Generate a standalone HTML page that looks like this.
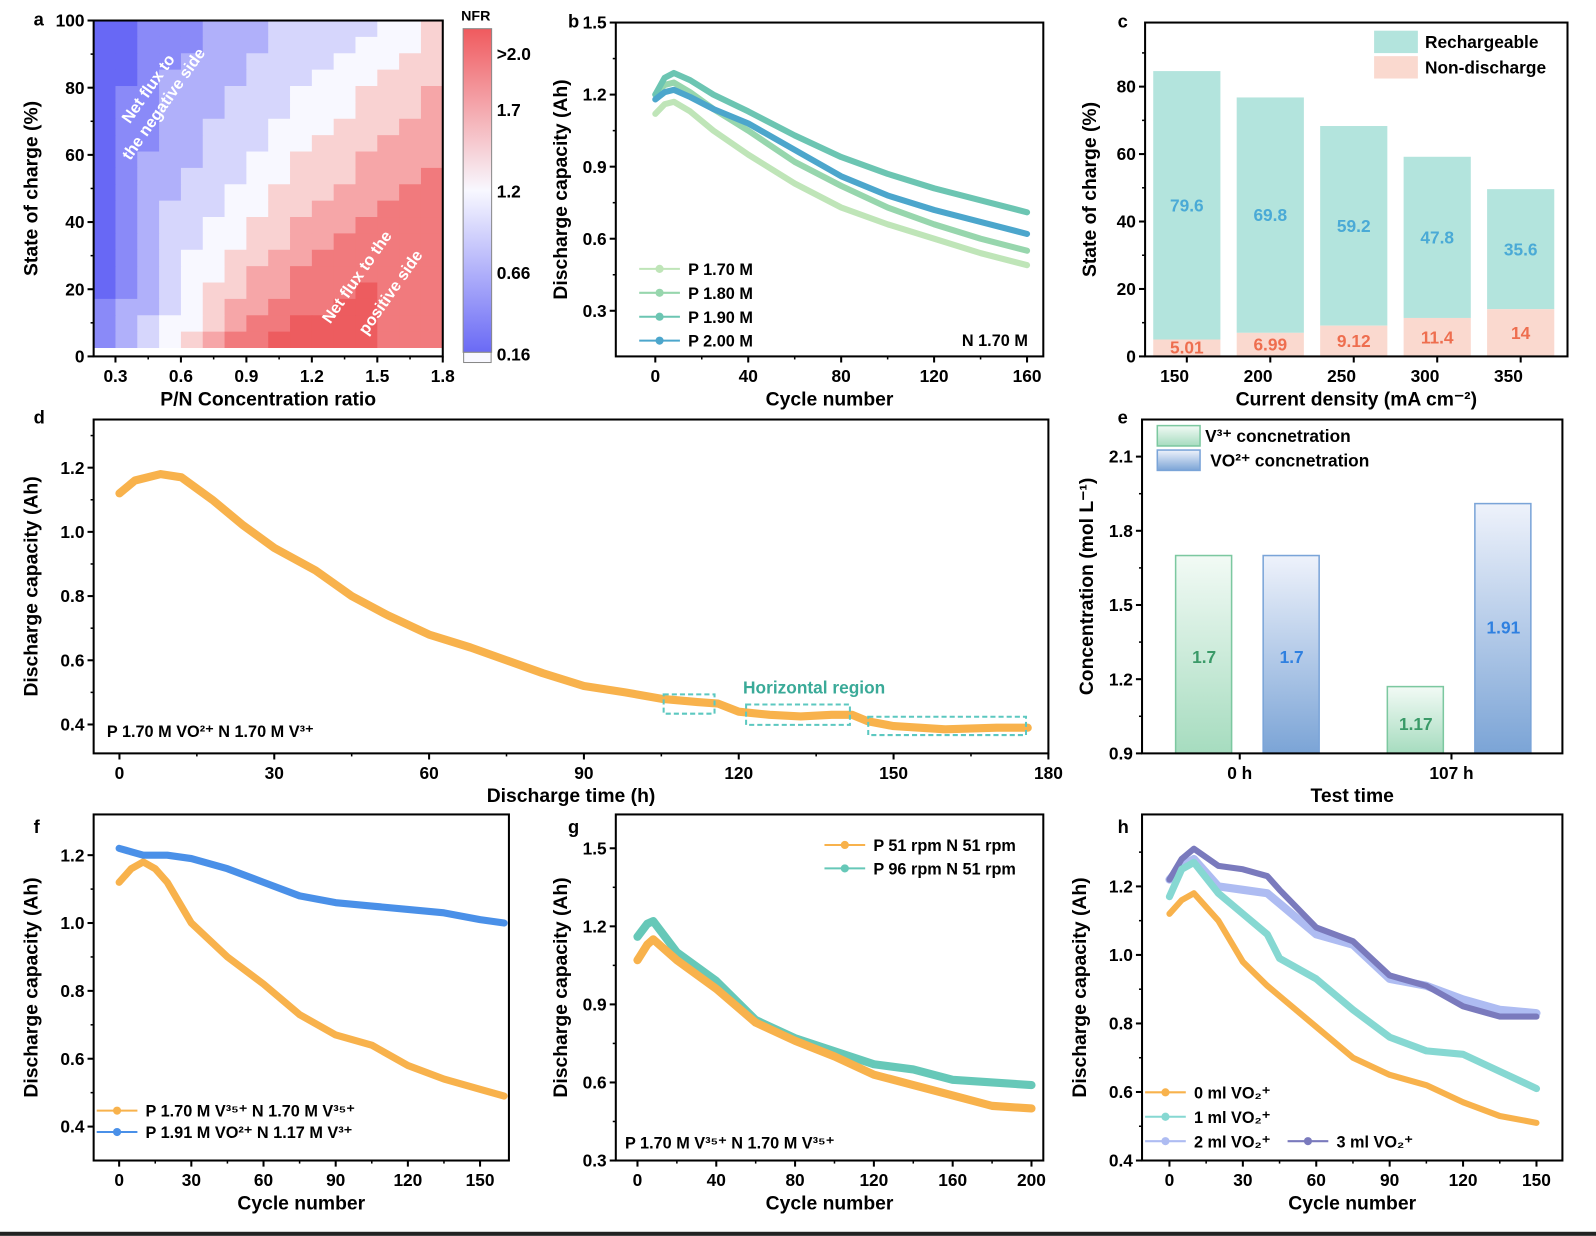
<!DOCTYPE html>
<html><head><meta charset="utf-8"><style>
html,body{margin:0;padding:0;background:#fff;}
svg{display:block;font-family:"Liberation Sans",Arial,sans-serif;font-weight:bold;}
</style></head><body>
<svg id="fig" width="1596" height="1236" viewBox="0 0 1568 1214" xmlns="http://www.w3.org/2000/svg">
<defs>
<linearGradient id="gGreen" x1="0" y1="0" x2="0" y2="1"><stop offset="0" stop-color="#f2faf5"/><stop offset="1" stop-color="#a6dcbf"/></linearGradient>
<linearGradient id="gBlue" x1="0" y1="0" x2="0" y2="1"><stop offset="0" stop-color="#eef2fb"/><stop offset="1" stop-color="#7ba4d6"/></linearGradient>
<linearGradient id="gCbar" x1="0" y1="1" x2="0" y2="0"><stop offset="0" stop-color="#6a6af5"/><stop offset="0.5" stop-color="#f8f8ff"/><stop offset="1" stop-color="#f05a5e"/></linearGradient>
</defs>
<rect x="0" y="1210" width="1568" height="4" fill="#222"/>
</svg>
<script>
// ---------- DATA ----------
const heatRows = [
"0011122233333445","0011122233334445","0011222333344455","0012222333444555",
"0112223334445556","0112223334445556","0112233344455566","0112233344555666",
"0122233445556666","0122333445556667","0122334455566677","0123334455666777",
"0123344556667777","0123344556677777","0123445566777777","0123445667777777",
"0123455667778777","1223456677788777","1234456778888777","1234567788888777"];
const heatXStart = [0.2,0.3,0.4,0.5,0.6,0.7,0.8,0.9,1.0,1.1,1.2,1.3,1.4,1.5,1.6,1.7];
const cbarLabels = [">2.0","1.7","1.2","0.66","0.16"];

const bCycles = [0,4,8,15,25,40,60,80,100,120,140,160];
const bP170 = [1.12,1.16,1.17,1.13,1.05,0.95,0.83,0.73,0.66,0.60,0.54,0.49];
const bP180 = [1.20,1.24,1.25,1.21,1.14,1.05,0.92,0.82,0.73,0.66,0.60,0.55];
const bP190 = [1.20,1.27,1.29,1.26,1.20,1.13,1.03,0.94,0.87,0.81,0.76,0.71];
const bP200 = [1.18,1.21,1.22,1.19,1.14,1.08,0.97,0.86,0.78,0.72,0.67,0.62];
const bNames = ["P 1.70 M","P 1.80 M","P 1.90 M","P 2.00 M"];

const cCats = ["150","200","250","300","350"];
const cRech = [79.6,69.8,59.2,47.8,35.6];
const cNon = [5.01,6.99,9.12,11.4,14];

const dTime = [0,3,8,12,18,24,30,38,45,52,60,68,75,82,90,98,105,112,116,120,126,132,138,142,145,150,160,170,176];
const dCap = [1.12,1.16,1.18,1.17,1.10,1.02,0.95,0.88,0.80,0.74,0.68,0.64,0.60,0.56,0.52,0.50,0.48,0.47,0.465,0.44,0.43,0.425,0.43,0.43,0.41,0.395,0.385,0.39,0.39];

const eGroups = ["0 h","107 h"];
const eV = [1.7,1.17];
const eVO = [1.7,1.91];

const fCyc = [0,5,10,15,20,30,45,60,75,90,105,120,135,150,160];
const fOrange = [1.12,1.16,1.18,1.16,1.12,1.00,0.90,0.82,0.73,0.67,0.64,0.58,0.54,0.51,0.49];
const fBlue = [1.22,1.21,1.20,1.20,1.20,1.19,1.16,1.12,1.08,1.06,1.05,1.04,1.03,1.01,1.00];

const gCyc = [0,5,8,20,40,60,80,100,120,140,160,180,200];
const gOrange = [1.07,1.13,1.15,1.07,0.96,0.83,0.76,0.70,0.63,0.59,0.55,0.51,0.50];
const gTeal = [1.16,1.21,1.22,1.10,0.99,0.84,0.77,0.72,0.67,0.65,0.61,0.60,0.59];

const hCyc = [0,5,10,20,30,40,45,60,75,90,105,120,135,150];
const h0 = [1.12,1.16,1.18,1.10,0.98,0.91,0.88,0.79,0.70,0.65,0.62,0.57,0.53,0.51];
const h1 = [1.17,1.25,1.27,1.18,1.12,1.06,0.99,0.93,0.84,0.76,0.72,0.71,0.66,0.61];
const h2 = [1.22,1.26,1.28,1.20,1.19,1.18,1.15,1.06,1.03,0.93,0.91,0.87,0.84,0.83];
const h3 = [1.22,1.28,1.31,1.26,1.25,1.23,1.19,1.08,1.04,0.94,0.91,0.85,0.82,0.82];

// ---------- HELPERS ----------
const NS="http://www.w3.org/2000/svg";
const svg=document.getElementById('fig');
function el(tag,attrs,parent,text){const e=document.createElementNS(NS,tag);for(const k in attrs)e.setAttribute(k,attrs[k]);if(text!==undefined)e.textContent=text;(parent||svg).appendChild(e);return e;}
function axes(o){
  const g=el('g',{});
  
  
  const sx=v=>o.x0+(v-o.xmin)/(o.xmax-o.xmin)*(o.x1-o.x0);
  const sy=v=>o.y1-(v-o.ymin)/(o.ymax-o.ymin)*(o.y1-o.y0);
  if(o.yticks){o.yticks.forEach(t=>{const y=sy(t);el('line',{x1:o.x0-6,x2:o.x0,y1:y,y2:y,stroke:'#000','stroke-width':2},g);
    const tx=el('text',{x:o.x0-9,y:y+6,'text-anchor':'end','font-size':17},g,o.yfmt?o.yfmt(t):t);
    });
    if(o.yminor)o.yminor.forEach(t=>{const y=sy(t);el('line',{x1:o.x0-3,x2:o.x0,y1:y,y2:y,stroke:'#000','stroke-width':1.5},g);});}
  if(o.xticks){o.xticks.forEach(t=>{const x=sx(t);el('line',{x1:x,x2:x,y1:o.y1,y2:o.y1+6,stroke:'#000','stroke-width':2},g);
    const tx=el('text',{x:x,y:o.y1+25,'text-anchor':'middle','font-size':17},g,o.xfmt?o.xfmt(t):t);
    });
    if(o.xminor)o.xminor.forEach(t=>{const x=sx(t);el('line',{x1:x,x2:x,y1:o.y1,y2:o.y1+3,stroke:'#000','stroke-width':1.5},g);});}
  if(o.xlabel){const t=el('text',{x:(o.x0+o.x1)/2,y:o.y1+48,'text-anchor':'middle','font-size':19},g,o.xlabel);}
  if(o.ylabel){const cx=o.x0-o.ylo,cy=(o.y0+o.y1)/2;const t=el('text',{x:cx,y:cy,'text-anchor':'middle','font-size':19,transform:`rotate(-90 ${cx} ${cy})`},g,o.ylabel);}
  if(o.letter){const t=el('text',{x:o.lx,y:o.ly,'font-size':18},g,o.letter);}
  return {g,sx,sy,frame:()=>el('rect',{x:o.x0,y:o.y0,width:o.x1-o.x0,height:o.y1-o.y0,fill:'none',stroke:'#000','stroke-width':2},g)};
}
function series(A,xs,ys,color,w,marker,name){
  const pts=xs.map((x,i)=>A.sx(x)+','+A.sy(ys[i])).join(' ');
  const p=el('polyline',{points:pts,fill:'none',stroke:color,'stroke-width':w,'stroke-linejoin':'round','stroke-linecap':'round'},A.g);
  
  
}
function legendLine(A,x,y,color,label){
  el('line',{x1:x,x2:x+40,y1:y,y2:y,stroke:color,'stroke-width':2},A.g);
  el('circle',{cx:x+20,cy:y,r:4,fill:color},A.g);
  const t=el('text',{x:x+48,y:y+6,'font-size':16},A.g,label);
  
  
}

// ---------- PANEL A ----------
(function(){
 const A=axes({name:'panel-a',x0:92,x1:435,y0:20,y1:350,xmin:0.2,xmax:1.8,ymin:0,ymax:100,
  xticks:[0.3,0.6,0.9,1.2,1.5,1.8],xfmt:v=>v.toFixed(1),yticks:[0,20,40,60,80,100],xminor:[0.45,0.75,1.05,1.35,1.65],yminor:[10,30,50,70,90],
  xlabel:'P/N Concentration ratio',ylabel:'State of charge (%)',ylo:55,letter:'a',lx:33,ly:25});
 const lv=[[104,104,245],[138,138,248],[176,176,250],[214,214,252],[248,248,255],[249,210,210],[246,166,168],[241,122,125],[237,92,95]];
 const nR=heatRows.length;
 heatRows.forEach((row,r)=>{
  const top=100-r*(97.5/nR);const bot=top-97.5/nR;
  heatXStart.forEach((x0,c)=>{
   const v=+row[c];const col=lv[v];
   const rc=el('rect',{x:A.sx(x0),y:A.sy(top),width:A.sx(x0+0.1)-A.sx(x0)+0.5,height:A.sy(bot)-A.sy(top)+0.5,fill:`rgb(${col})`},A.g);
   
   
  });});
 el('rect',{x:92,y:A.sy(2.5),width:343,height:350-A.sy(2.5),fill:'#fff'},A.g);
 const t1=el('text',{x:150,y:90,'text-anchor':'middle','font-size':16,fill:'#fff',transform:'rotate(-55 150 90)'},A.g,'Net flux to');
 const t2=el('text',{x:165,y:105,'text-anchor':'middle','font-size':16,fill:'#fff',transform:'rotate(-55 165 105)'},A.g,'the negative side');
 const t3=el('text',{x:355,y:275,'text-anchor':'middle','font-size':16,fill:'#fff',transform:'rotate(-55 355 275)'},A.g,'Net flux to the');
 const t4=el('text',{x:388,y:290,'text-anchor':'middle','font-size':16,fill:'#fff',transform:'rotate(-55 388 290)'},A.g,'positive side');
 [t1,t2,t3,t4].forEach(t=>{});
 A.frame();
 const cb=el('rect',{x:455,y:28,width:28,height:318,fill:'url(#gCbar)',stroke:'#888','stroke-width':1},A.g);
 
 el('rect',{x:455.5,y:346,width:27,height:10,fill:'#f8f8ff',stroke:'#888','stroke-width':1},A.g);
 el('text',{x:453,y:20,'font-size':14},A.g,'NFR');
 const cy=[53,108,188,268,348];
 cbarLabels.forEach((l,i)=>{const t=el('text',{x:488,y:cy[i]+6,'font-size':17},A.g,l);});
})();

// ---------- PANEL B ----------
(function(){
 const A=axes({name:'panel-b',x0:605,x1:1025,y0:22,y1:350,xmin:-17,xmax:167,ymin:0.11,ymax:1.5,
  xticks:[0,40,80,120,160],yticks:[0.3,0.6,0.9,1.2,1.5],yfmt:v=>v.toFixed(1),xminor:[20,60,100,140],yminor:[0.45,0.75,1.05,1.35],
  xlabel:'Cycle number',ylabel:'Discharge capacity (Ah)',ylo:48,letter:'b',lx:558,ly:27});
 const cols=['#bfe5b8','#97d6ad','#6cc5b2','#4ca6cc'];
 [bP170,bP180,bP190,bP200].forEach((s,i)=>series(A,bCycles,s,cols[i],6,0,'series-'+bNames[i].replace(/[ .]/g,'-')));
 bNames.forEach((n,i)=>legendLine(A,628,264+i*23.5,cols[i],n));
 el('text',{x:945,y:340,'font-size':16},A.g,'N 1.70 M');
 A.frame();
})();

// ---------- PANEL C ----------
(function(){
 const A=axes({name:'panel-c',x0:1125,x1:1540,y0:22,y1:350,xmin:0,xmax:5,ymin:0,ymax:99,
  yticks:[0,20,40,60,80],yminor:[10,30,50,70,90],
  xlabel:'Current density (mA cm⁻²)',ylabel:'State of charge (%)',ylo:48,letter:'c',lx:1098,ly:27});
 const bw=66,pitch=82,c0=1166;
 cCats.forEach((c,i)=>{
  const cx=c0+i*pitch;
  const tot=cRech[i]+cNon[i];
  const r1=el('rect',{x:cx-bw/2,y:A.sy(tot),width:bw,height:A.sy(cNon[i])-A.sy(tot),fill:'#b3e4dd'},A.g);
  
  const r2=el('rect',{x:cx-bw/2,y:A.sy(cNon[i]),width:bw,height:350-A.sy(cNon[i]),fill:'#fad9cf'},A.g);
  
  el('text',{x:cx,y:A.sy(cNon[i]+cRech[i]/2)+6,'text-anchor':'middle','font-size':17,fill:'#4aaad6'},A.g,cRech[i]);
  el('text',{x:cx,y:Math.min(A.sy(cNon[i]/2)+6,347),'text-anchor':'middle','font-size':17,fill:'#ee6e4f'},A.g,cNon[i]);
  el('line',{x1:cx,x2:cx,y1:350,y2:356,stroke:'#000','stroke-width':2},A.g);
  const t=el('text',{x:cx-12,y:375,'text-anchor':'middle','font-size':17},A.g,c);
  
 });
 el('rect',{x:1350,y:30,width:43,height:22,fill:'#b3e4dd'},A.g);
 el('rect',{x:1350,y:55,width:43,height:22,fill:'#fad9cf'},A.g);
 const l1=el('text',{x:1400,y:47,'font-size':17},A.g,'Rechargeable');
 const l2=el('text',{x:1400,y:72,'font-size':17},A.g,'Non-discharge');
 [l1,l2].forEach(t=>{});
 A.frame();
})();

// ---------- PANEL D ----------
(function(){
 const A=axes({name:'panel-d',x0:92,x1:1030,y0:412,y1:740,xmin:-5,xmax:180,ymin:0.31,ymax:1.35,
  xticks:[0,30,60,90,120,150,180],yticks:[0.4,0.6,0.8,1.0,1.2],yfmt:v=>v.toFixed(1),xminor:[15,45,75,105,135,165],yminor:[0.5,0.7,0.9,1.1,1.3],
  xlabel:'Discharge time (h)',ylabel:'Discharge capacity (Ah)',ylo:55,letter:'d',lx:33,ly:416});
 series(A,dTime,dCap,'#f8b24c',8,0,'series-discharge');
 [[652,682,50,19],[733,692,102,20],[853,704,155,18]].forEach(b=>{
  const r=el('rect',{x:b[0],y:b[1],width:b[2],height:b[3],fill:'none',stroke:'#5cc8c0','stroke-width':2,'stroke-dasharray':'5 3'},A.g);
  });
 el('text',{x:730,y:681,'font-size':17,fill:'#3aaa98'},A.g,'Horizontal region');
 el('text',{x:105,y:724,'font-size':16},A.g,'P 1.70 M VO²⁺  N 1.70 M V³⁺');
 A.frame();
})();

// ---------- PANEL E ----------
(function(){
 const A=axes({name:'panel-e',x0:1122,x1:1535,y0:412,y1:740,xmin:0,xmax:1,ymin:0.9,ymax:2.25,
  yticks:[0.9,1.2,1.5,1.8,2.1],yfmt:v=>v.toFixed(1),yminor:[1.05,1.35,1.65,1.95],
  xlabel:'Test time',ylabel:'Concentration (mol L⁻¹)',ylo:48,letter:'e',lx:1098,ly:416});
 const gx=[1226,1434];
 eGroups.forEach((gname,i)=>{
  const r1=el('rect',{x:gx[i]-71,y:A.sy(eV[i]),width:55,height:740-A.sy(eV[i]),fill:'url(#gGreen)',stroke:'#7cc8a0','stroke-width':1.5},A.g);
  
  const r2=el('rect',{x:gx[i]+15,y:A.sy(eVO[i]),width:55,height:740-A.sy(eVO[i]),fill:'url(#gBlue)',stroke:'#7aa4d8','stroke-width':1.5},A.g);
  
  el('text',{x:gx[i]-43,y:i?A.sy(1.02)+6:A.sy(1.29)+6,'text-anchor':'middle','font-size':17,fill:'#3a9a68'},A.g,eV[i]);
  el('text',{x:gx[i]+43,y:i?A.sy(1.41)+6:A.sy(1.29)+6,'text-anchor':'middle','font-size':17,fill:'#2f80e0'},A.g,eVO[i]);
  el('line',{x1:gx[i]-8,x2:gx[i]-8,y1:740,y2:746,stroke:'#000','stroke-width':2},A.g);
  el('text',{x:gx[i]-8,y:765,'text-anchor':'middle','font-size':17},A.g,gname);
 });
 el('rect',{x:1137,y:418,width:42,height:20,fill:'url(#gGreen)',stroke:'#7cc8a0','stroke-width':1.5},A.g);
 el('rect',{x:1137,y:442,width:42,height:20,fill:'url(#gBlue)',stroke:'#7aa4d8','stroke-width':1.5},A.g);
 const l1=el('text',{x:1184,y:434,'font-size':17},A.g,'V³⁺ concnetration');
 const l2=el('text',{x:1189,y:458,'font-size':17},A.g,'VO²⁺ concnetration');
 [l1,l2].forEach(t=>{});
 A.frame();
})();

// ---------- PANEL F ----------
(function(){
 const A=axes({name:'panel-f',x0:92,x1:500,y0:800,y1:1140,xmin:-10.6,xmax:162,ymin:0.3,ymax:1.32,
  xticks:[0,30,60,90,120,150],yticks:[0.4,0.6,0.8,1.0,1.2],yfmt:v=>v.toFixed(1),xminor:[15,45,75,105,135],yminor:[0.5,0.7,0.9,1.1],
  xlabel:'Cycle number',ylabel:'Discharge capacity (Ah)',ylo:55,letter:'f',lx:33,ly:818});
 series(A,fCyc,fOrange,'#f8b24c',7,0,'series-p170');
 series(A,fCyc,fBlue,'#4a90e8',7,0,'series-p191');
 legendLine(A,95,1091,'#f8b24c','P 1.70 M V³⁵⁺  N 1.70 M V³⁵⁺');
 legendLine(A,95,1112,'#4a90e8','P 1.91 M VO²⁺ N 1.17 M V³⁺');
 A.frame();
})();

// ---------- PANEL G ----------
(function(){
 const A=axes({name:'panel-g',x0:605,x1:1025,y0:800,y1:1140,xmin:-11,xmax:206,ymin:0.3,ymax:1.63,
  xticks:[0,40,80,120,160,200],yticks:[0.3,0.6,0.9,1.2,1.5],yfmt:v=>v.toFixed(1),xminor:[20,60,100,140,180],yminor:[0.45,0.75,1.05,1.35],
  xlabel:'Cycle number',ylabel:'Discharge capacity (Ah)',ylo:48,letter:'g',lx:558,ly:818});
 series(A,gCyc,gTeal,'#66c8b8',8,0,'series-p96');
 series(A,gCyc,gOrange,'#f8b24c',8,0,'series-p51');
 legendLine(A,810,830,'#f8b24c','P 51 rpm  N 51 rpm');
 legendLine(A,810,853,'#66c8b8','P 96 rpm  N 51 rpm');
 el('text',{x:614,y:1128,'font-size':16},A.g,'P 1.70 M V³⁵⁺  N 1.70 M V³⁵⁺');
 A.frame();
})();

// ---------- PANEL H ----------
(function(){
 const A=axes({name:'panel-h',x0:1122,x1:1535,y0:800,y1:1140,xmin:-11.2,xmax:160.6,ymin:0.4,ymax:1.41,
  xticks:[0,30,60,90,120,150],yticks:[0.4,0.6,0.8,1.0,1.2],yfmt:v=>v.toFixed(1),xminor:[15,45,75,105,135],yminor:[0.5,0.7,0.9,1.1,1.3],
  xlabel:'Cycle number',ylabel:'Discharge capacity (Ah)',ylo:55,letter:'h',lx:1098,ly:818});
 series(A,hCyc,h2,'#aebcf2',8,0,'series-2ml');
 series(A,hCyc,h3,'#7a7abd',6,0,'series-3ml');
 series(A,hCyc,h1,'#86d8d2',7,0,'series-1ml');
 series(A,hCyc,h0,'#f8b24c',6,0,'series-0ml');
 legendLine(A,1125,1073,'#f8b24c','0 ml VO₂⁺');
 legendLine(A,1125,1097,'#86d8d2','1 ml VO₂⁺');
 legendLine(A,1125,1121,'#aebcf2','2 ml VO₂⁺');
 legendLine(A,1265,1121,'#7a7abd','3 ml VO₂⁺');
 A.frame();
})();
</script>
</body></html>
